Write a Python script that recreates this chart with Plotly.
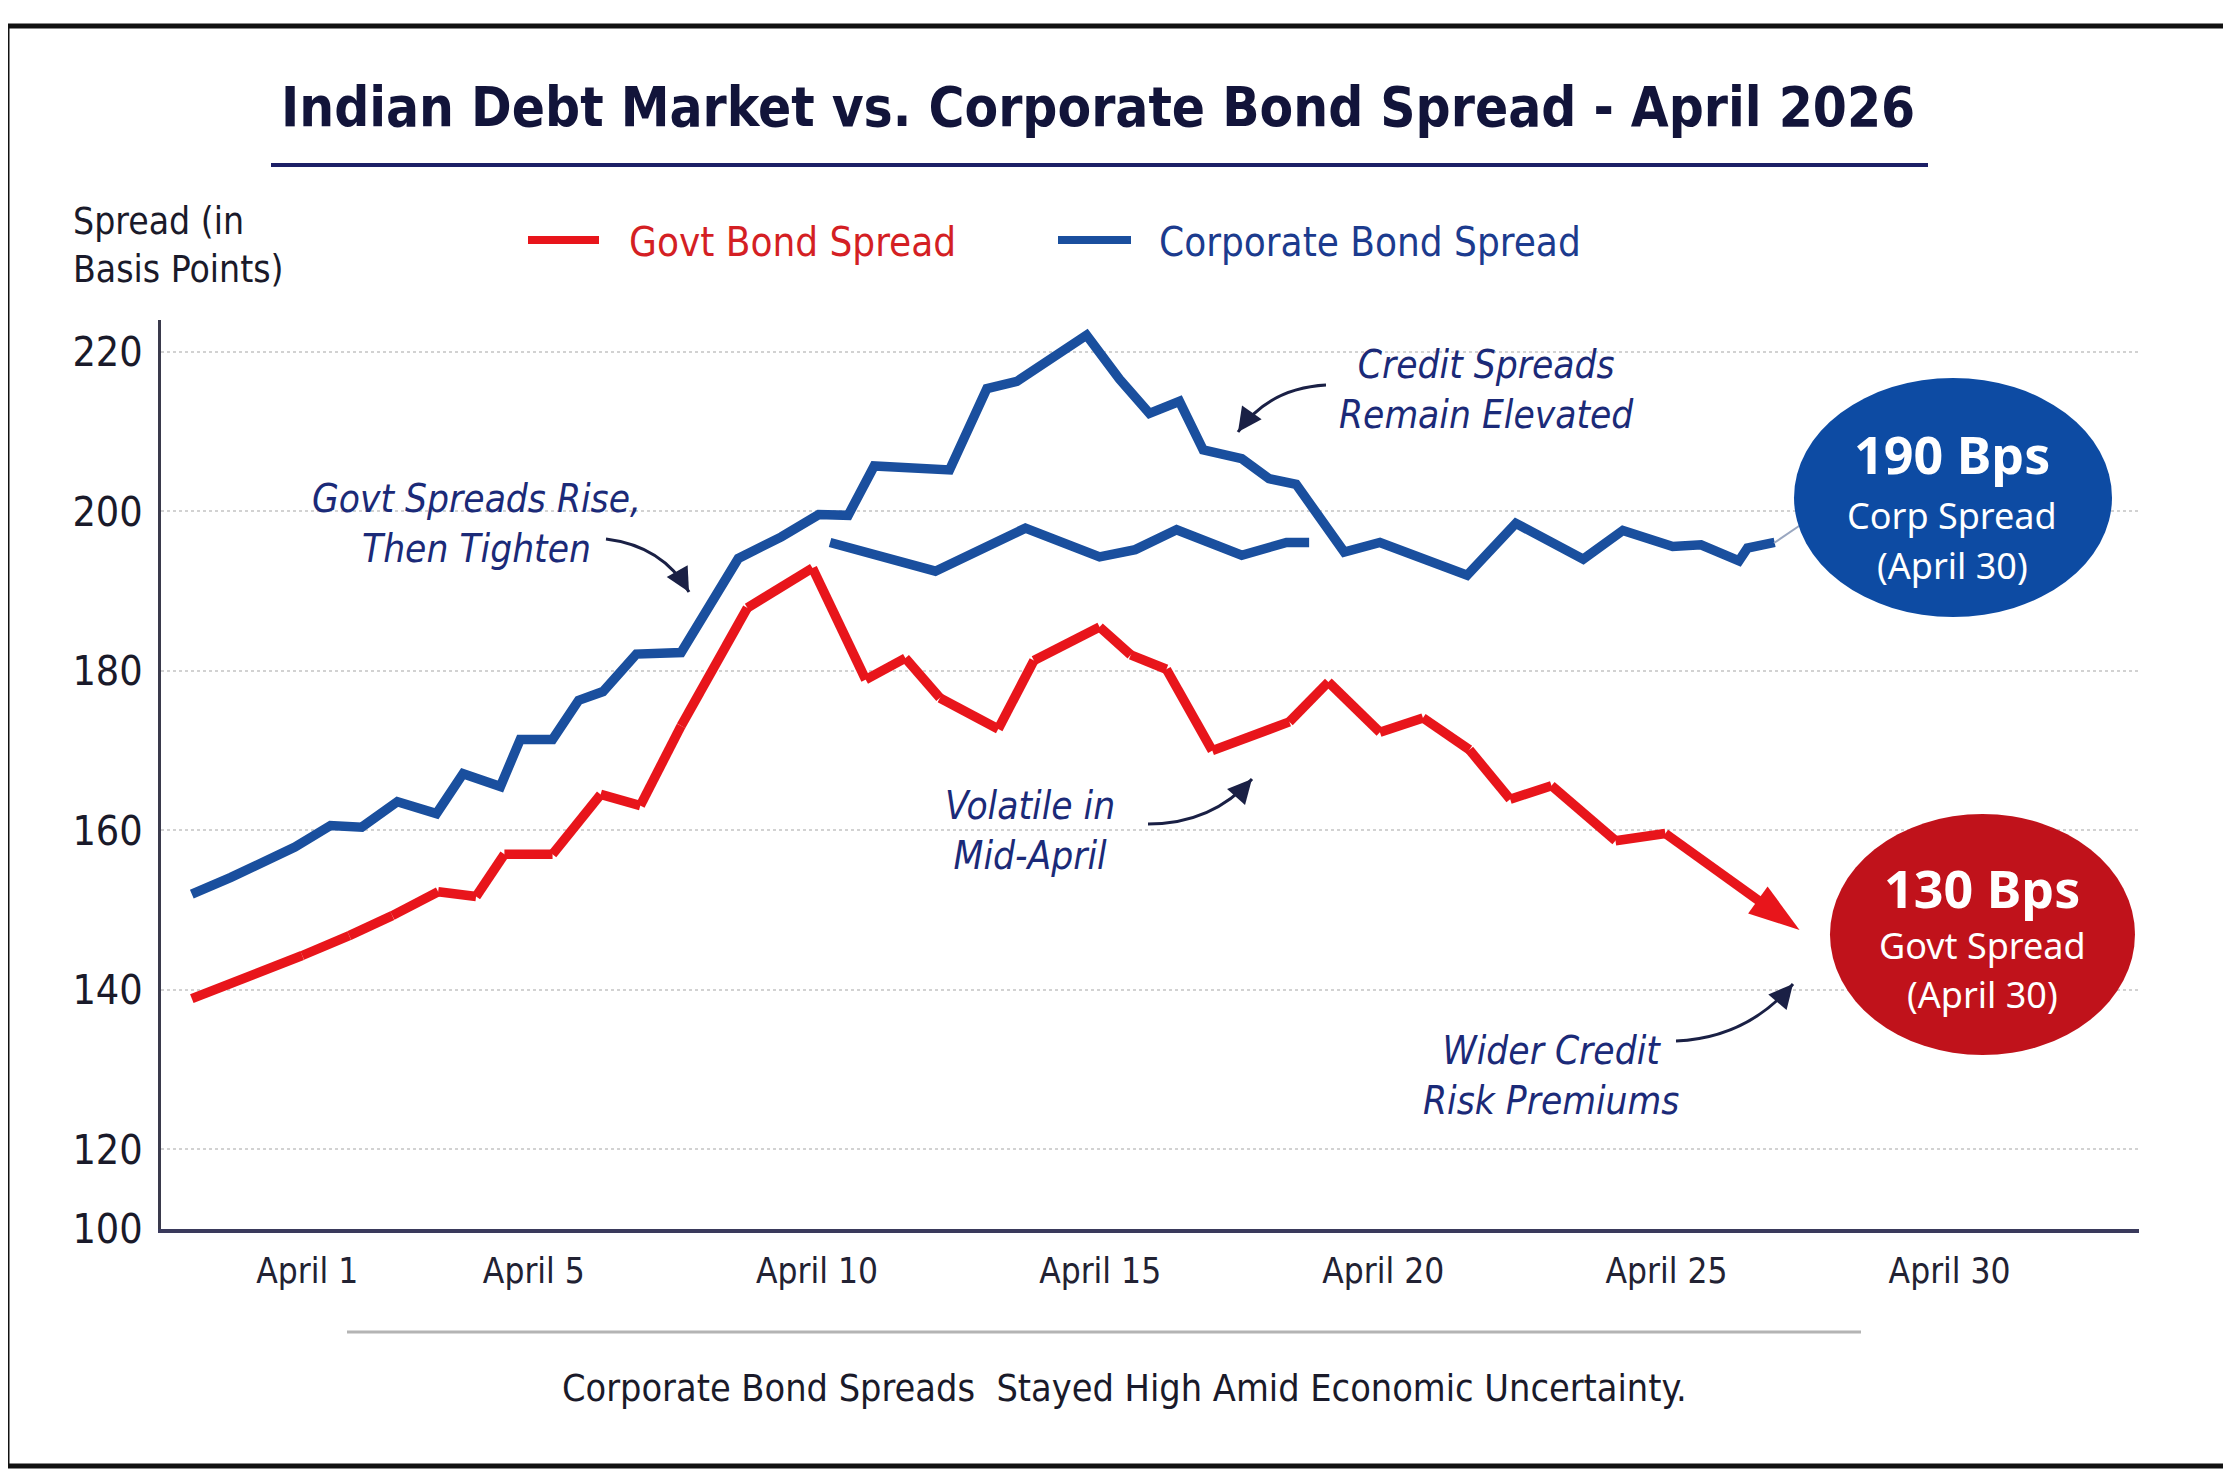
import plotly.graph_objects as go

# days of April (fractional) and spread in bps
corp_days = [-1.04, -0.35, 0.78, 1.41, 1.96, 2.59, 3.28, 3.75, 4.41, 4.76, 5.33, 5.79, 6.22,
             6.81, 7.60, 8.61, 9.37, 10.03, 10.55, 11.01, 12.34, 13.0, 13.53, 14.76, 15.34,
             15.87, 16.40, 16.82, 17.50, 17.98, 18.46, 19.31, 19.94, 21.48, 22.34, 23.53,
             24.23, 25.11, 25.61, 26.28, 26.43, 26.91]
corp_vals = [152.0, 154.1, 157.9, 160.6, 160.4, 163.6, 162.1, 167.1, 165.5, 171.4, 171.4,
             176.3, 177.4, 182.1, 182.3, 194.1, 196.8, 199.6, 199.5, 205.7, 205.2, 215.4,
             216.3, 222.1, 216.6, 212.3, 213.8, 207.7, 206.6, 204.1, 203.4, 194.9, 196.1,
             192.0, 198.5, 194.0, 197.6, 195.6, 195.8, 193.8, 195.4, 196.1]

# the second, shorter corporate segment drawn in mid-April
corp2_days = [10.23, 12.09, 13.68, 14.99, 15.62, 16.35, 17.50, 18.29, 18.69]
corp2_vals = [196.1, 192.5, 197.9, 194.3, 195.2, 197.7, 194.5, 196.1, 196.1]

govt_days = [-1.04, -0.35, 0.91, 1.74, 2.50, 3.31, 3.98, 4.48, 5.33, 6.18, 6.88, 7.60, 8.77,
             9.92, 10.86, 11.56, 12.17, 13.20, 13.83, 14.99, 15.54, 16.17, 16.98, 18.34,
             19.03, 19.94, 20.70, 21.52, 22.24, 22.97, 24.10, 24.98, 27.35]
govt_vals = [138.9, 140.7, 144.3, 146.8, 149.3, 152.3, 151.7, 157.0, 157.0, 164.5, 163.1,
             173.1, 187.9, 192.9, 178.9, 181.6, 176.6, 172.7, 181.3, 185.5, 182.0, 180.2,
             170.0, 173.6, 178.6, 172.3, 174.1, 170.1, 163.9, 165.6, 158.7, 159.6, 147.5]

tick_days = [1, 5, 10, 15, 20, 25, 30]
tick_text = ["April 1", "April 5", "April 10", "April 15", "April 20", "April 25", "April 30"]
y_ticks = [110, 120, 140, 160, 180, 200, 220]
y_text = ["100", "120", "140", "160", "180", "200", "220"]

RED = "#e8151b"
BLUE = "#1a4f9e"
NAVY = "#1b2a78"
NARROW = "Liberation Sans Narrow, DejaVu Sans Condensed, Roboto Condensed, Roboto, sans-serif"

W, H = 2231, 1483
OFF = 8  # page body margin
# plot area in screen pixels: x 161..2139, y 320..1229
L, T = 161 - OFF, 320 - OFF
R, B = W - (2139 - OFF), H - (1229 - OFF)
PW, PH = W - L - R, H - T - B


def fx(sx):
    return (sx - OFF - L) / PW


def fy(sy):
    return (H - B - (sy - OFF)) / PH


fig = go.Figure()
fig.add_trace(go.Scatter(x=corp_days, y=corp_vals, mode="lines",
                         line=dict(color=BLUE, width=9.5), name="Corporate Bond Spread"))
fig.add_trace(go.Scatter(x=corp2_days, y=corp2_vals, mode="lines",
                         line=dict(color=BLUE, width=9.5), showlegend=False))
sizes = [0] * (len(govt_days) - 1) + [54]
fig.add_trace(go.Scatter(x=govt_days, y=govt_vals, mode="lines+markers",
                         line=dict(color=RED, width=9.5), name="Govt Bond Spread",
                         marker=dict(symbol="arrow", size=sizes, color=RED, opacity=1,
                                     angleref="previous", line=dict(width=0))))

shapes = []
ann = []

# frame, title underline, caption rule
shapes.append(dict(type="rect", xref="paper", yref="paper", x0=fx(7), x1=fx(2227),
                   y0=fy(1466), y1=fy(26), line=dict(color="#111111", width=5), layer="below"))
shapes.append(dict(type="line", xref="paper", yref="paper", x0=fx(271), x1=fx(1928),
                   y0=fy(165), y1=fy(165), line=dict(color="#1c1f66", width=4)))
shapes.append(dict(type="line", xref="paper", yref="paper", x0=fx(347), x1=fx(1861),
                   y0=fy(1332), y1=fy(1332), line=dict(color="#b4b4b4", width=3)))

ann.append(dict(text="<b>Indian Debt Market vs. Corporate Bond Spread - April 2026</b>",
                x=fx(1098), y=fy(107), font=dict(size=54.5, color="#12143a", family=NARROW)))
ann.append(dict(text="Spread (in<br>Basis Points)", x=fx(71), y=fy(245), xanchor="left",
                align="left", font=dict(size=37, color="#1a1a2a", family=NARROW)))
ann.append(dict(text="Corporate Bond Spreads  Stayed High Amid Economic Uncertainty.",
                x=fx(1124), y=fy(1388), font=dict(size=37.5, color="#1a1a2a", family=NARROW)))

# legend
shapes.append(dict(type="line", xref="paper", yref="paper", x0=fx(528), x1=fx(599),
                   y0=fy(240), y1=fy(240), line=dict(color=RED, width=8)))
shapes.append(dict(type="line", xref="paper", yref="paper", x0=fx(1058), x1=fx(1131),
                   y0=fy(240), y1=fy(240), line=dict(color=BLUE, width=8)))
ann.append(dict(text="Govt Bond Spread", x=fx(627), y=fy(242), xanchor="left",
                font=dict(size=40, color="#d41f24", family=NARROW)))
ann.append(dict(text="Corporate Bond Spread", x=fx(1157), y=fy(242), xanchor="left",
                font=dict(size=40, color="#1c3b8e", family=NARROW)))

# callout texts
notes = [
    ("<i>Govt Spreads Rise,<br>Then Tighten</i>", 476, 523),
    ("<i>Credit Spreads<br>Remain Elevated</i>", 1486, 389),
    ("<i>Volatile in<br>Mid-April</i>", 1030, 830),
    ("<i>Wider Credit<br>Risk Premiums</i>", 1551, 1075),
]
for txt, x, y in notes:
    ann.append(dict(text=txt, x=fx(x), y=fy(y), font=dict(size=38.5, color=NAVY, family=NARROW)))

# curved arrows: (start, control, end) in pixels
curves = [
    ((606, 539), (663, 546), (689, 592)),
    ((1326, 385), (1269, 388), (1238, 432)),
    ((1148, 824), (1212, 824), (1252, 779)),
    ((1676, 1041), (1747, 1038), (1793, 984)),
]
for (x0, y0), (cx, cy), (x1, y1) in curves:
    path = f"M {fx(x0)},{fy(y0)} Q {fx(cx)},{fy(cy)} {fx(x1)},{fy(y1)}"
    shapes.append(dict(type="path", xref="paper", yref="paper", path=path,
                       line=dict(color="#1a2045", width=3)))
    ann.append(dict(text="", x=fx(x1), y=fy(y1), showarrow=True, arrowhead=2,
                    arrowsize=1.6, arrowwidth=3, arrowcolor="#1a2045",
                    ax=(cx - x1) * 0.35, ay=(cy - y1) * 0.35))

# end-of-month bubbles
shapes.append(dict(type="line", xref="paper", yref="paper", x0=fx(1774), x1=fx(1802),
                   y0=fy(543), y1=fy(524), line=dict(color="#9aa7c0", width=2)))
shapes.append(dict(type="circle", xref="paper", yref="paper", x0=fx(1794), x1=fx(2112),
                   y0=fy(617), y1=fy(378), fillcolor="#0d4ba3", line=dict(width=0)))
shapes.append(dict(type="circle", xref="paper", yref="paper", x0=fx(1830), x1=fx(2135),
                   y0=fy(1055), y1=fy(814), fillcolor="#c0121b", line=dict(width=0)))
bubble_txt = [
    ("<b>190 Bps</b>", 1952, 453, 52),
    ("Corp Spread", 1952, 515, 36),
    ("(April 30)", 1952, 565, 36),
    ("<b>130 Bps</b>", 1982, 887, 52),
    ("Govt Spread", 1982, 945, 36),
    ("(April 30)", 1982, 994, 36),
]
for txt, x, y, s in bubble_txt:
    ann.append(dict(text=txt, x=fx(x), y=fy(y), font=dict(size=s, color="white", family="Noto Sans")))

for a in ann:
    a.setdefault("xref", "paper")
    a.setdefault("yref", "paper")
    a.setdefault("showarrow", False)
    a.setdefault("xanchor", "center")
    a.setdefault("yanchor", "middle")

fig.update_layout(
    width=W, height=H,
    margin=dict(l=L, r=R, t=T, b=B),
    paper_bgcolor="white", plot_bgcolor="white",
    showlegend=False,
    shapes=shapes, annotations=ann,
    xaxis=dict(range=[-1.584, 33.344], tickvals=tick_days, ticktext=tick_text,
               showgrid=False, zeroline=False, showline=True, linecolor="#3a3a5c", linewidth=4,
               ticks="", ticklabelstandoff=8,
               tickfont=dict(size=35, color="#222233", family=NARROW)),
    yaxis=dict(range=[110, 224], tickvals=y_ticks, ticktext=y_text,
               showgrid=True, gridcolor="#d2d2d2", griddash="dot", gridwidth=2,
               zeroline=False, showline=True, linecolor="#3a3a4c", linewidth=3,
               ticks="", ticklabelstandoff=7,
               tickfont=dict(size=41, color="#1a1a2a", family=NARROW)),
)

fig.write_html("out.html")
